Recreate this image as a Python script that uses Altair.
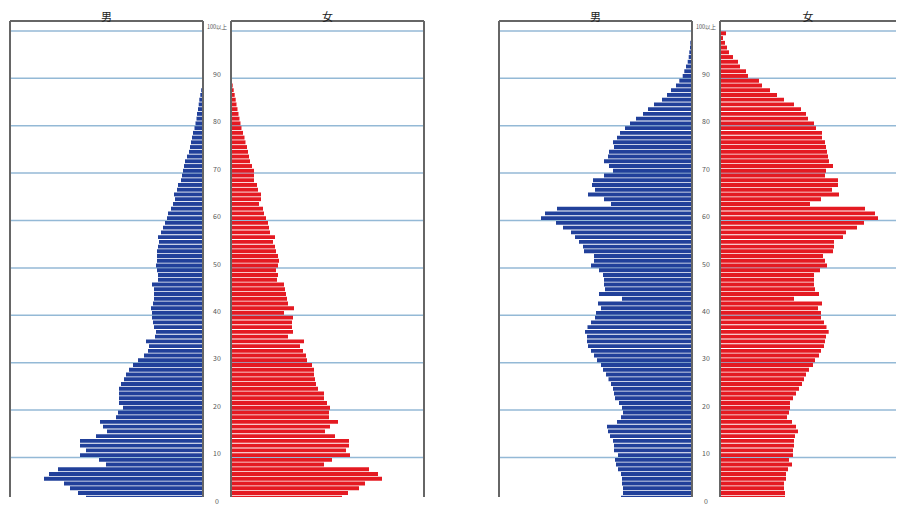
import altair as alt
import pandas as pd

# ---------------- data ----------------
ages = list(range(0, 101))                      # 100 = "100以上"
tick_ages = [0, 10, 20, 30, 40, 50, 60, 70, 80, 90, 100]
tick_labels = ["0", "10", "20", "30", "40", "50", "60", "70", "80", "90", "100以上"]
grid_ages = [10, 20, 30, 40, 50, 60, 70, 80, 90, 100]

# left pyramid (population by single year of age, arbitrary units)
male_left = [
    108, 109, 117, 125, 133, 139, 159, 154, 145, 97,
    104, 123, 117, 123, 123, 107, 96, 100, 103, 87,
    85, 80, 84, 84, 84, 84, 82, 79, 77, 74,
    70, 65, 59, 55, 54, 57, 48, 47, 49, 50,
    51, 51, 52, 50, 49, 49, 49, 51, 45, 45,
    46, 47, 46, 46, 46, 45, 44, 45, 42, 40,
    38, 36, 35, 32, 30, 28, 29, 26, 25, 22,
    21, 20, 19, 18, 16, 14, 13, 12, 11, 10,
    8.5, 7.5, 6.5, 6, 5, 4.3, 3.7, 2.7, 1.8, 1,
    0.5, 0.2, 0, 0, 0, 0, 0, 0, 0, 0, 0,
]
female_left = [
    103, 101, 111, 117, 128, 134, 151, 147, 138, 93,
    101, 119, 115, 118, 118, 104, 94, 99, 107, 98,
    98, 99, 96, 93, 93, 87, 85, 84, 83, 83,
    81, 76, 75, 72, 69, 73, 57, 62, 61, 61,
    62, 53, 63, 57, 56, 55, 54, 53, 46, 47,
    45, 47, 48, 47, 45, 44, 42, 44, 39, 38,
    37, 35, 33, 32, 28, 30, 30, 27, 26, 23,
    23, 23, 21, 19, 18, 17, 16, 14.5, 13.5, 12,
    10.5, 9.5, 8.5, 7.5, 6.5, 5.5, 4.7, 3.7, 2.7, 1.7,
    0.8, 0.4, 0.2, 0, 0, 0, 0, 0, 0, 0, 0,
]

# right pyramid
male_right = [
    68, 69, 71, 69, 69, 70, 70, 71, 74, 76,
    77, 74, 78, 78, 79, 82, 84, 85, 75, 71,
    69, 70, 73, 77, 78, 79, 81, 83.5, 86, 89,
    91, 95, 98, 101, 104, 105, 105, 107, 104.5, 101,
    97, 96, 91, 94, 70, 93, 87, 88, 88, 89,
    93, 101, 98, 98, 108, 109, 113, 117, 121, 129,
    136, 151, 147, 135, 81, 88, 104, 97, 100, 99,
    88, 79, 83, 88, 84, 83, 78, 79, 75, 72,
    67, 62, 56, 49, 44, 38, 30, 25, 21, 16,
    12.7, 9.3, 7.7, 6, 4.3, 3.3, 2.7, 2, 1.7, 1, 1,
]
female_right = [
    64, 65, 65, 65, 64, 64, 66, 66, 68, 72,
    69, 73, 73, 74, 74, 75, 78, 76, 72, 67,
    69, 70, 70, 73, 76, 79, 82, 84, 86, 89,
    93, 95, 99, 101, 104, 105, 106, 108.7, 106.5, 104,
    101, 101, 98, 102, 74, 99, 95, 94, 94, 94,
    100, 107, 105, 103, 113, 114, 114, 123, 126, 137,
    144, 158, 155, 145, 90, 101, 119, 112, 118, 118,
    105, 106, 113, 109, 108, 107, 106, 105, 102, 102,
    96, 94, 88, 86, 81, 74, 64, 57, 50, 42,
    39, 28, 26, 20, 18, 13, 9, 7, 5, 3, 6,
]

# ---------------- style ----------------
BLUE = "#21409a"
RED = "#e41a22"
GRID = "#94b9d6"
FRAME = "#666666"
FONT = "Noto Sans CJK JP"

PANEL_W = 193
LAST_W = 176          # last panel is cut by the page edge
LABEL_W = 28
GAP_W = 75
H = 476
BAR = 3.9
PX_PER_YEAR = 4.739
Y_TOP = 102.1
Y_DOMAIN = [Y_TOP - H / PX_PER_YEAR, Y_TOP]

yscale = alt.Scale(domain=Y_DOMAIN, nice=False, zero=False, padding=0)
grid_df = pd.DataFrame({"g": grid_ages})
tick_df = pd.DataFrame({"age": tick_ages, "label": tick_labels})


def frame_rule(**enc):
    return alt.Chart(grid_df).mark_rule(color=FRAME, strokeWidth=1).encode(**enc)


def side(values, color, reverse, title, width=PANEL_W, right_edge=True):
    df = pd.DataFrame({"age": ages, "pop": values})
    grid = alt.Chart(grid_df).mark_rule(color=GRID, strokeWidth=1.5).encode(
        y=alt.Y("g:Q", scale=yscale, axis=None)
    )
    bars = (
        alt.Chart(df)
        .transform_calculate(mid="datum.age - 0.5")
        .mark_bar(orient="horizontal", size=BAR, color=color, clip=True)
        .encode(
            x=alt.X("pop:Q",
                    scale=alt.Scale(domain=[0, width], reverse=reverse, nice=False, padding=0),
                    axis=None),
            y=alt.Y("mid:Q", scale=yscale, axis=None),
        )
    )
    layers = [grid, bars,
              frame_rule(y=alt.value(0)),
              frame_rule(x=alt.value(0))]
    if right_edge:
        layers.append(frame_rule(x=alt.value(width)))
    return alt.layer(*layers).properties(
        width=width,
        height=H,
        view=alt.ViewBackground(stroke="transparent"),
        title=alt.TitleParams(title, fontSize=11, fontWeight="normal", color="#222",
                              offset=1, dy=3, font=FONT, anchor="middle"),
    )


def labels():
    base = alt.Chart(tick_df).encode(
        y=alt.Y("age:Q", scale=yscale, axis=None),
        text="label:N",
        x=alt.value(LABEL_W / 2),
    )
    mid = base.transform_filter("datum.age < 100").mark_text(
        fontSize=7, dy=-3.3, color="#555", font=FONT, align="center", baseline="middle")
    top = base.transform_filter("datum.age == 100").mark_text(
        fontSize=5.5, dy=-3.5, color="#555", font=FONT, align="center", baseline="middle")
    return alt.layer(mid, top).properties(
        width=LABEL_W, height=H, view=alt.ViewBackground(stroke="transparent")
    )


def spacer():
    return alt.Chart(grid_df).mark_rule(opacity=0).encode(
        y=alt.Y("g:Q", scale=yscale, axis=None)
    ).properties(width=GAP_W, height=H, view=alt.ViewBackground(stroke="transparent"))


chart = (
    alt.hconcat(
        side(male_left, BLUE, True, "男"), labels(), side(female_left, RED, False, "女"),
        spacer(),
        side(male_right, BLUE, True, "男"), labels(),
        side(female_right, RED, False, "女", width=LAST_W, right_edge=False),
        spacing=0, bounds="flush",
    )
    .resolve_scale(x="independent")
    .properties(padding={"left": 0, "top": 3, "right": 0, "bottom": 0})
)

chart.save("out.html", embed_options={"renderer": "svg", "actions": False})
